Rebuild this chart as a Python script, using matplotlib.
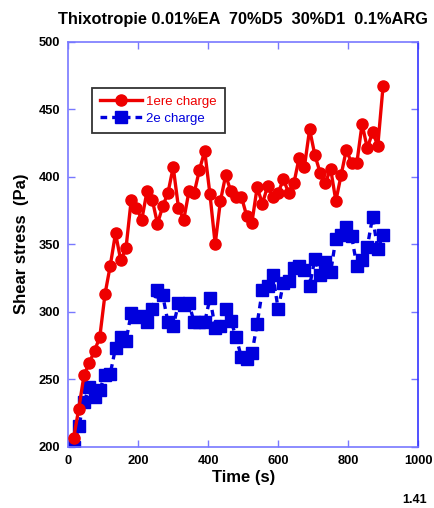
import matplotlib.pyplot as plt

plt.rcParams['font.family'] = ['Liberation Sans', 'DejaVu Sans']

time_s = [15 * i for i in range(1, 61)]

charge1 = [206, 228, 253, 262, 271, 281, 313, 334, 358, 338,
           347, 383, 377, 368, 389, 383, 365, 378, 388, 407,
           377, 368, 389, 388, 405, 419, 387, 350, 382, 401,
           389, 385, 385, 371, 366, 392, 380, 393, 385, 388,
           398, 388, 395, 414, 407, 435, 416, 403, 395, 406,
           382, 401, 420, 410, 410, 439, 421, 433, 423, 467]

charge2 = [200, 215, 233, 244, 237, 242, 253, 254, 273, 281,
           278, 299, 296, 297, 292, 302, 316, 312, 292, 289,
           306, 305, 306, 292, 292, 292, 310, 288, 289, 302,
           293, 281, 266, 265, 269, 291, 316, 319, 327, 302,
           321, 323, 332, 334, 331, 319, 339, 327, 337, 329,
           354, 357, 363, 356, 334, 338, 348, 370, 346, 357]

labels = ['1ere charge', '2e charge']

axis_col = '#7878ff'

fig = plt.figure(figsize=(4.35, 5.08), dpi=100)
ax = fig.add_axes([0.157, 0.121, 0.804, 0.797])

ax.plot(time_s, charge1, color='#ee0000', lw=2.4, marker='o', ms=8,
        label=labels[0], zorder=3)
ax.plot(time_s, charge2, color='#0000dd', lw=2.4, ls=(0, (2, 1.5)),
        marker='s', ms=9, label=labels[1], zorder=2)

ax.set_xlim(0, 1000)
ax.set_ylim(200, 500)
ax.set_xticks(range(0, 1001, 200))
ax.set_yticks(range(200, 501, 50))
ax.tick_params(direction='in', length=5, width=1, color=axis_col,
               top=True, right=True, labelsize=9.3, pad=6)
for lab in ax.get_xticklabels() + ax.get_yticklabels():
    lab.set_fontweight('bold')
for side in ['left', 'bottom', 'top']:
    ax.spines[side].set_color(axis_col)
    ax.spines[side].set_linewidth(1.2)
ax.spines['right'].set_color('#3333ff')
ax.spines['right'].set_linewidth(1.2)

ax.set_xlabel('Time (s)', fontsize=12, fontweight='bold', labelpad=2)
ax.set_ylabel('Shear stress  (Pa)', fontsize=12, fontweight='bold',
              labelpad=7)
ax.set_title('Thixotropie 0.01%EA  70%D5  30%D1  0.1%ARG',
             fontsize=11.8, fontweight='bold', pad=13)

leg = ax.legend(loc='upper left', bbox_to_anchor=(0.068, 0.886),
                fontsize=9.5, frameon=True, fancybox=False,
                handlelength=3.2, borderpad=0.6, labelspacing=0.35,
                handletextpad=0.3, borderaxespad=0)
leg.get_frame().set_edgecolor('black')
leg.get_frame().set_linewidth(1.3)
for txt, c in zip(leg.get_texts(), ['#ee0000', '#0000dd']):
    txt.set_color(c)

fig.text(0.925, 0.003, '1.41', fontsize=9, fontweight='bold', ha='left',
         va='bottom')

plt.savefig('out.png', dpi=100, facecolor='white')
